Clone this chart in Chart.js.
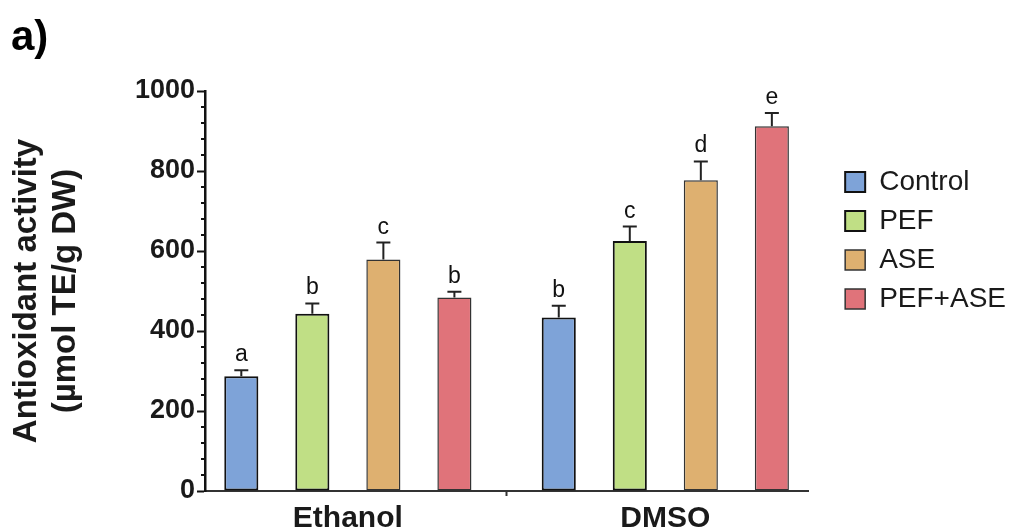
<!DOCTYPE html>
<html>
<head>
<meta charset="utf-8">
<script src="https://cdn.jsdelivr.net/npm/chart.js@4.4.0/dist/chart.umd.min.js"></script>
<style>
  body { margin: 0; background: #fff; }
  #wrap { width: 1009px; height: 532px; }
</style>
</head>
<body>
<div id="wrap"><canvas id="grafico" width="1009" height="532"></canvas></div>
<script>
const grupos = ['Ethanol', 'DMSO'];
const tratamientos = ['Control', 'PEF', 'ASE', 'PEF+ASE'];

const valoresControl = [287, 434];
const valoresPEF = [443, 625];
const valoresASE = [579, 777];
const valoresPEFASE = [484, 912];

const erroresControl = [15, 29];
const erroresPEF = [26, 36];
const erroresASE = [42, 47];
const erroresPEFASE = [14, 33];

const letrasControl = ['a', 'b'];
const letrasPEF = ['b', 'c'];
const letrasASE = ['c', 'd'];
const letrasPEFASE = ['b', 'e'];

const ticksEtiquetados = [0, 200, 400, 600, 800, 1000];

const colores = ['#7ea3d8', '#c0df85', '#deb070', '#e0737a'];
const bordes = ['#111', '#111', '#333', '#333'];
const anchosBorde = [2, 2, 1.5, 1.5];

const valores = [valoresControl, valoresPEF, valoresASE, valoresPEFASE];
const errores = [erroresControl, erroresPEF, erroresASE, erroresPEFASE];
const letras = [letrasControl, letrasPEF, letrasASE, letrasPEFASE];

const fuente = '"Liberation Sans", Arial, sans-serif';

const datasets = tratamientos.map((nombre, i) => ({
    label: nombre,
    data: valores[i].map((v, j) => ({ x: j, y: v })),
    errores: errores[i],
    letras: letras[i],
    backgroundColor: colores[i],
    borderColor: bordes[i],
    borderWidth: anchosBorde[i],
    borderSkipped: false,
    categoryPercentage: 0.895,
    barPercentage: 0.48
}));

// barras de error (solo hacia arriba) y letras de significancia
const errorBars = {
    id: 'errorBars',
    afterDatasetsDraw(chart) {
        const ctx = chart.ctx;
        const y = chart.scales.y;
        ctx.save();
        chart.data.datasets.forEach((ds, i) => {
            const meta = chart.getDatasetMeta(i);
            meta.data.forEach((bar, j) => {
                const v = ds.data[j].y;
                const yTop = y.getPixelForValue(v + ds.errores[j]);
                ctx.strokeStyle = '#222';
                ctx.lineWidth = 2;
                ctx.beginPath();
                ctx.moveTo(bar.x, bar.y);
                ctx.lineTo(bar.x, yTop);
                ctx.moveTo(bar.x - 7, yTop);
                ctx.lineTo(bar.x + 7, yTop);
                ctx.stroke();

                ctx.fillStyle = '#111';
                ctx.font = '23px ' + fuente;
                ctx.textAlign = 'center';
                ctx.textBaseline = 'alphabetic';
                ctx.fillText(ds.letras[j], bar.x, yTop - 9);
            });
        });
        ctx.restore();
    }
};

// ticks menores del eje Y y la etiqueta "a)"
const extras = {
    id: 'extras',
    afterDraw(chart) {
        const ctx = chart.ctx;
        const y = chart.scales.y;
        ctx.save();
        ctx.strokeStyle = '#111';
        ctx.lineWidth = 2;
        y.ticks.forEach(t => {
            if (ticksEtiquetados.includes(t.value)) return;
            const py = Math.round(y.getPixelForValue(t.value));
            ctx.beginPath();
            ctx.moveTo(y.right - 4, py);
            ctx.lineTo(y.right, py);
            ctx.stroke();
        });
        ctx.fillStyle = '#000';
        ctx.font = 'bold 42px ' + fuente;
        ctx.textAlign = 'left';
        ctx.textBaseline = 'alphabetic';
        ctx.fillText('a)', 11, 50);
        ctx.restore();
    }
};

new Chart(document.getElementById('grafico'), {
    type: 'bar',
    data: { datasets: datasets },
    options: {
        responsive: false,
        animation: false,
        layout: { padding: { top: 91, left: 0, right: -7, bottom: 0 } },
        plugins: {
            tooltip: { enabled: false },
            legend: {
                position: 'right',
                align: 'start',
                title: { display: true, text: '', font: { size: 10 }, padding: { top: 54, bottom: 0 } },
                labels: {
                    boxWidth: 20,
                    boxHeight: 20,
                    padding: 11,
                    color: '#1a1a1a',
                    font: { family: fuente, size: 28 }
                }
            }
        },
        scales: {
            x: {
                type: 'linear',
                min: -0.45,
                max: 1.45,
                offset: false,
                afterBuildTicks: s => { s.ticks = s.ticks.filter(t => Number.isInteger(t.value) && t.value >= 0 && t.value < grupos.length); },
                afterFit: s => { s.height = 41; },
                ticks: {
                    stepSize: 1,
                    padding: 5,
                    color: '#1a1a1a',
                    font: { family: fuente, size: 30, weight: 'bold' },
                    callback: v => grupos[v]
                },
                grid: { display: true, drawOnChartArea: false, drawTicks: true, tickLength: 5, tickColor: '#333', tickWidth: 2 },
                border: { display: true, color: '#333', width: 2 }
            },
            y: {
                min: 0,
                max: 1000,
                afterFit: s => { s.width = 205; },
                ticks: {
                    stepSize: 40,
                    autoSkip: false,
                    padding: 2,
                    color: '#1a1a1a',
                    font: { family: fuente, size: 27, weight: 'bold' },
                    callback: v => ticksEtiquetados.includes(v) ? v : ''
                },
                grid: {
                    display: true,
                    drawOnChartArea: false,
                    drawTicks: true,
                    tickLength: 8,
                    tickWidth: 2,
                    tickColor: c => (c.tick && ticksEtiquetados.includes(c.tick.value)) ? '#111' : 'rgba(0,0,0,0)'
                },
                border: { display: true, color: '#111', width: 2.5 },
                title: {
                    display: true,
                    text: ['Antioxidant activity', '(µmol TE/g DW)'],
                    color: '#1a1a1a',
                    font: { family: fuente, size: 33, weight: 'bold', lineHeight: 1.18 },
                    padding: { top: 7, bottom: 10 }
                }
            },
            // eje vacío: solo deja hueco entre el gráfico y la leyenda
            derecha: {
                type: 'linear',
                position: 'right',
                display: false,
                afterFit: s => { s.width = 26; }
            }
        }
    },
    plugins: [errorBars, extras]
});
</script>
</body>
</html>
